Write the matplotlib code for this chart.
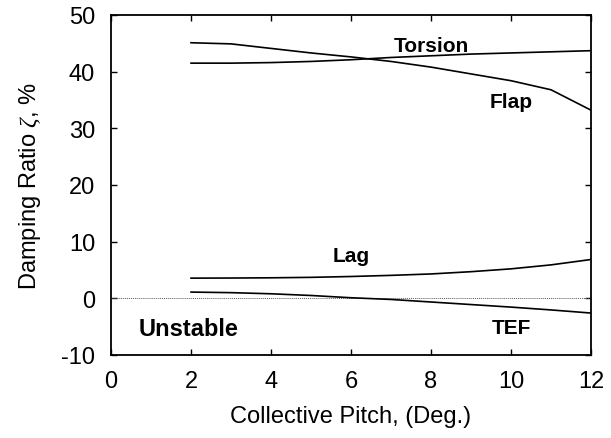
import numpy as np
import matplotlib
matplotlib.use('Agg')
import matplotlib.pyplot as plt

plt.rcParams['font.family'] = ['Liberation Sans', 'DejaVu Sans']
plt.rcParams['axes.unicode_minus'] = False
plt.rcParams['mathtext.fontset'] = 'custom'
plt.rcParams['mathtext.rm'] = 'Liberation Sans'
plt.rcParams['mathtext.it'] = 'Liberation Serif:italic'

# collective pitch (deg) and damping ratio of each mode (%)
pitch = [2, 3, 4, 5, 6, 7, 8, 9, 10, 11, 12]
flap = [45.1, 44.9, 44.1, 43.3, 42.6, 41.8, 40.8, 39.6, 38.4, 36.8, 33.2]
torsion = [41.5, 41.5, 41.6, 41.8, 42.1, 42.5, 42.8, 43.1, 43.3, 43.5, 43.7]
lag = [3.56, 3.58, 3.62, 3.7, 3.85, 4.05, 4.3, 4.7, 5.2, 5.9, 6.85]
tef = [1.1, 1.0, 0.8, 0.5, 0.1, -0.2, -0.65, -1.1, -1.55, -2.05, -2.6]

mode_names = ['Flap', 'Torsion', 'Lag', 'TEF']
mode_data = [flap, torsion, lag, tef]
# where the mode name sits (x, y baseline)
name_pos = [(10.0, 33.7), (8.0, 43.7), (6.0, 6.56), (10.0, -6.1)]

fig = plt.figure(figsize=(6.11, 4.39), dpi=100)
ax = fig.add_axes([0.1817, 0.1891, 0.7856, 0.7745])

ax.axhline(0, color='0.35', lw=0.7, ls=(0, (1, 1)))
for d in mode_data:
    ax.plot(pitch, d, color='black', lw=1.2)

for name, (tx, ty) in zip(mode_names, name_pos):
    ax.text(tx, ty, name, ha='center', va='baseline', fontsize=15, fontweight='bold')
ax.text(1.95, -6.45, 'Unstable', ha='center', va='baseline', fontsize=17, fontweight='bold')

ax.set_xlim(0, 12)
ax.set_ylim(-10, 50)
ax.set_xticks(np.arange(0, 13, 2))
ax.set_yticks(np.arange(-10, 51, 10))
ax.tick_params(direction='in', top=True, right=True, length=4, width=1.0, labelsize=17)
ax.tick_params(axis='x', pad=11)
ax.tick_params(axis='y', pad=11.5)
for s in ax.spines.values():
    s.set_linewidth(1.3)

ax.set_xlabel('Collective Pitch, (Deg.)', fontsize=17, labelpad=9)
ax.set_ylabel(r'Damping Ratio $\zeta$, %', fontsize=17, labelpad=13)

fig.savefig('out.png', dpi=100)
